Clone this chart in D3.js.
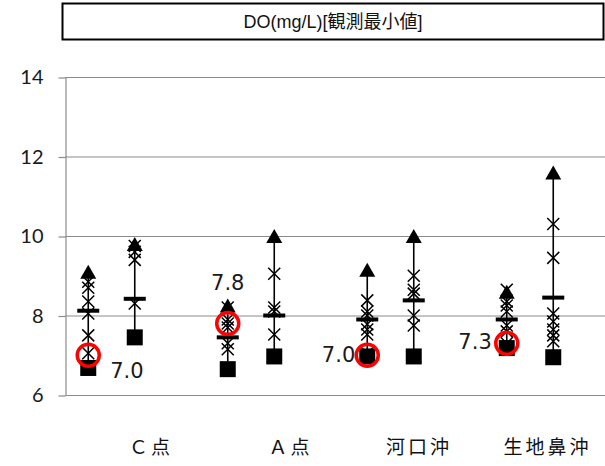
<!DOCTYPE html>
<html>
<head>
<meta charset="utf-8">
<script src="https://cdn.jsdelivr.net/npm/d3@7"></script>
<style>
  html, body { margin: 0; padding: 0; background: #fff; }
  svg { display: block; }
</style>
</head>
<body>
<svg id="chart" width="605" height="466"></svg>
<script>
const title = "DO(mg/L)[観測最小値]";
const categories = ["Ｃ点", "Ａ点", "河口沖", "生地鼻沖"];
const yTicks = [6, 8, 10, 12, 14];

// left column of each site (with this year's value)
const col1Max = [9.1, 8.25, 9.15, 8.6];
const col1Min = [6.68, 6.65, 6.97, 7.18];
const col1Mean = [8.12, 7.45, 7.9, 7.9];
const col1Obs = [
  [8.85, 8.7, 8.35, 8.05, 7.5, 7.05],
  [8.2, 7.9, 7.8, 7.7, 7.3, 7.15],
  [8.38, 8.1, 8.0, 7.78, 7.65, 7.52, 7.05],
  [8.65, 8.35, 8.25, 8.1, 7.75, 7.6, 7.3]
];
const currentValues = [7.0, 7.8, 7.0, 7.3];
const currentLabels = ["7.0", "7.8", "7.0", "7.3"];

// right column of each site
const col2Max = [9.8, 10.0, 10.0, 11.6];
const col2Min = [7.45, 6.97, 6.97, 6.95];
const col2Mean = [8.42, 8.0, 8.38, 8.45];
const col2Obs = [
  [9.75, 9.6, 9.4, 8.3],
  [9.05, 8.2, 8.1, 7.52],
  [9.0, 8.65, 8.55, 8.0, 7.75],
  [10.3, 9.45, 8.05, 7.85, 7.65, 7.5, 7.35]
];

// manual label placement per site, as in the original sheet
const labelPlacement = [
  { anchor: "start", dx: 22, dy: 23, base: "auto" },
  { anchor: "middle", dx: 0, dy: -33, base: "auto" },
  { anchor: "end", dx: -12, dy: 1, base: "middle" },
  { anchor: "end", dx: -15, dy: 0, base: "middle" }
];

const svg = d3.select("#chart");
const plotLeft = 65, plotTop = 77, plotBottom = 395;
const groupWidth = 139.5;

const y = d3.scaleLinear().domain([6, 14]).range([plotBottom, plotTop]);
const group = d3.scaleBand().domain(categories)
  .range([plotLeft, plotLeft + groupWidth * categories.length]).padding(0);
const slot = d3.scaleBand().domain(["c1", "c2", "gap"]).range([0, group.bandwidth()]);
const colX = (cat, s) => group(cat) + slot(s) + slot.bandwidth() / 2;
const plotRight = group.range()[1];

const gridColor = "#8c8c8c";

// title box
svg.append("rect")
  .attr("x", 62.5).attr("y", 3.5)
  .attr("width", 541).attr("height", 36)
  .attr("fill", "#fff").attr("stroke", "#000").attr("stroke-width", 2);
svg.append("text")
  .attr("x", 62.5 + 541 / 2).attr("y", 22)
  .attr("text-anchor", "middle").attr("dominant-baseline", "central")
  .attr("font-family", "'Liberation Sans', 'Noto Sans CJK JP', sans-serif")
  .attr("font-size", "18px").attr("fill", "#111")
  .text(title);

// gridlines
svg.append("g").selectAll("line")
  .data(yTicks)
  .join("line")
  .attr("x1", plotLeft).attr("x2", plotRight)
  .attr("y1", d => y(d) + 0.5).attr("y2", d => y(d) + 0.5)
  .attr("stroke", gridColor).attr("stroke-width", 1.2);

// y axis
const yAxis = svg.append("g")
  .attr("transform", `translate(${plotLeft + 0.5},0.5)`)
  .call(d3.axisLeft(y).tickValues(yTicks).tickSize(7).tickSizeOuter(0).tickPadding(15));
yAxis.select(".domain").attr("stroke", gridColor).attr("stroke-width", 1.2);
yAxis.selectAll(".tick line").attr("stroke", gridColor).attr("stroke-width", 1.2);
yAxis.selectAll(".tick text")
  .attr("font-family", "Lato, 'Noto Sans', sans-serif")
  .attr("font-size", "20px").attr("fill", "#1a1a1a");

// category labels
svg.append("g").selectAll("text")
  .data(categories)
  .join("text")
  .attr("x", d => group(d) + group.bandwidth() * 0.775)
  .attr("y", 454)
  .attr("text-anchor", "end")
  .attr("font-family", "'Noto Sans CJK JP', sans-serif")
  .attr("font-size", "19px").attr("letter-spacing", "3px").attr("fill", "#111")
  .text(d => d);

// build columns
const columns = [];
categories.forEach((c, i) => {
  columns.push({ cat: c, slot: "c1", max: col1Max[i], min: col1Min[i], mean: col1Mean[i], obs: col1Obs[i] });
  columns.push({ cat: c, slot: "c2", max: col2Max[i], min: col2Min[i], mean: col2Mean[i], obs: col2Obs[i] });
});

const cols = svg.append("g").selectAll("g")
  .data(columns)
  .join("g")
  .attr("transform", d => `translate(${colX(d.cat, d.slot)},0)`);

cols.append("line")
  .attr("x1", 0).attr("x2", 0)
  .attr("y1", d => y(d.min)).attr("y2", d => y(d.max))
  .attr("stroke", "#000").attr("stroke-width", 1.6);

const xs = 6;
cols.each(function (d) {
  const g = d3.select(this);
  g.selectAll("path.obs")
    .data(d.obs)
    .join("path")
    .attr("class", "obs")
    .attr("d", v => `M${-xs},${y(v) - xs}L${xs},${y(v) + xs}M${-xs},${y(v) + xs}L${xs},${y(v) - xs}`)
    .attr("stroke", "#000").attr("stroke-width", 1.5).attr("fill", "none");
});

cols.append("rect")
  .attr("x", -11).attr("width", 22)
  .attr("y", d => y(d.mean) - 2).attr("height", 4)
  .attr("fill", "#000");

cols.append("path")
  .attr("d", d => { const cy = y(d.max); return `M0,${cy - 7}L8,${cy + 7}L-8,${cy + 7}Z`; })
  .attr("fill", "#000");

cols.append("rect")
  .attr("x", -8).attr("width", 16)
  .attr("y", d => y(d.min) - 8).attr("height", 16)
  .attr("fill", "#000");

// current value circles and labels
const cur = svg.append("g").selectAll("g")
  .data(categories.map((c, i) => ({ cat: c, v: currentValues[i], label: currentLabels[i], p: labelPlacement[i] })))
  .join("g")
  .attr("transform", d => `translate(${colX(d.cat, "c1")},${y(d.v)})`);

cur.append("circle")
  .attr("r", 11)
  .attr("fill", "none").attr("stroke", "#ff0000").attr("stroke-width", 3.5);

cur.append("text")
  .attr("x", d => d.p.dx).attr("y", d => d.p.dy)
  .attr("text-anchor", d => d.p.anchor)
  .attr("dominant-baseline", d => d.p.base)
  .attr("font-family", "'DejaVu Sans', sans-serif")
  .attr("font-size", "21px").attr("fill", "#1a1a1a")
  .text(d => d.label);
</script>
</body>
</html>
